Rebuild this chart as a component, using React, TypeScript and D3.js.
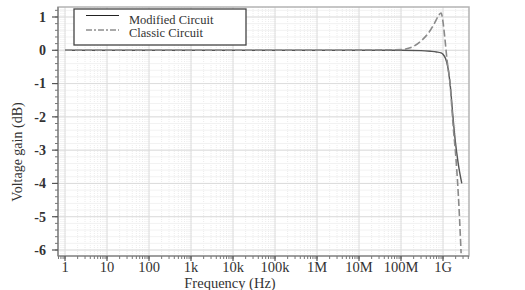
import React from "react";
import * as d3 from "d3";

const xTickValues = [1, 10, 100, 1e3, 1e4, 1e5, 1e6, 1e7, 1e8, 1e9];
const xTickLabels = ["1", "10", "100", "1k", "10k", "100k", "1M", "10M", "100M", "1G"];
const yTickValues = [1, 0, -1, -2, -3, -4, -5, -6];

const modifiedFreq = [1, 1e3, 1e6, 1e8, 3e8, 5e8, 7e8, 9e8, 1e9, 1.15e9, 1.3e9, 1.5e9, 1.7e9, 1.95e9, 2.3e9, 2.8e9];
const modifiedGain = [0, 0, 0, 0, -0.01, -0.03, -0.05, -0.08, -0.12, -0.25, -0.5, -1.1, -1.9, -2.7, -3.4, -4.0];

const classicFreq = [1, 1e3, 1e6, 1e8, 1.5e8, 2e8, 3e8, 4e8, 5e8, 6e8, 7e8, 8e8, 9e8, 1e9, 1.1e9, 1.25e9, 1.47e9, 1.75e9, 2.05e9, 2.4e9, 2.7e9];
const classicGain = [0, 0, 0, 0.02, 0.06, 0.12, 0.28, 0.44, 0.6, 0.77, 0.93, 1.06, 1.12, 0.85, 0.4, -0.3, -1.0, -2.3, -3.3, -4.7, -6.1];

const seriesNames = ["Modified Circuit", "Classic Circuit"];

export default function App() {
  const W = 525, H = 290;
  const left = 58, right = 469, top = 7, bottom = 256;
  const x = d3.scaleLog().domain([Math.pow(10, -7 / 42), Math.pow(10, (right - 65) / 42)]).range([left, right]);
  const y = d3.scaleLinear().domain([1 + (17 - top) / 33.3, -6 - (bottom - 250) / 33.3]).range([top, bottom]);

  const minorX: number[] = [];
  for (let e = -1; e <= 9; e++) {
    for (let m = 1; m <= 9; m++) {
      const v = m * Math.pow(10, e);
      if (v >= x.domain()[0] && v <= x.domain()[1]) minorX.push(v);
    }
  }
  const minorY: number[] = [];
  for (let v = -6.2; v <= 1.3; v += 0.2) {
    const r = Math.round(v * 10) / 10;
    if (r >= y.domain()[1] && r <= y.domain()[0]) minorY.push(r);
  }

  const line = d3
    .line<[number, number]>()
    .x((d) => x(d[0]))
    .y((d) => y(d[1]))
    .curve(d3.curveMonotoneX);

  const modData = modifiedFreq.map((f, i) => [f, modifiedGain[i]] as [number, number]);
  const clsData = classicFreq.map((f, i) => [f, classicGain[i]] as [number, number]);

  const font = "Liberation Serif";
  const textColor = "#333";

  return (
    <svg width={W} height={H} style={{ position: "absolute", left: 0, top: 0, background: "#fff" }} fontFamily={font}>
      {minorX.map((v, i) => (
        <line key={"mx" + i} x1={x(v)} x2={x(v)} y1={top} y2={bottom} stroke="#ececec" strokeWidth={1} strokeDasharray="1,1" />
      ))}
      {minorY.map((v, i) => (
        <line key={"my" + i} x1={left} x2={right} y1={y(v)} y2={y(v)} stroke="#f2f2f2" strokeWidth={1} />
      ))}
      {xTickValues.map((v, i) => (
        <line key={"gx" + i} x1={x(v)} x2={x(v)} y1={top} y2={bottom} stroke="#dcdcdc" strokeWidth={1} />
      ))}
      {yTickValues.map((v, i) => (
        <line key={"gy" + i} x1={left} x2={right} y1={y(v)} y2={y(v)} stroke="#dcdcdc" strokeWidth={1} />
      ))}
      <rect x={left} y={top} width={right - left} height={bottom - top} fill="none" stroke="#b4b4b4" strokeWidth={1.5} />
      <line x1={left} x2={left} y1={top} y2={bottom} stroke="#777" strokeWidth={1.2} />
      <line x1={left} x2={right} y1={bottom} y2={bottom} stroke="#777" strokeWidth={1.2} />
      {minorY.map((v, i) => (
        <line key={"ty" + i} x1={left - 3} x2={left} y1={y(v)} y2={y(v)} stroke="#777" strokeWidth={1} />
      ))}
      {yTickValues.map((v, i) => (
        <g key={"yl" + i}>
          <line x1={left - 6} x2={left} y1={y(v)} y2={y(v)} stroke="#555" strokeWidth={1.2} />
          <text x={46} y={y(v)} dy="0.35em" textAnchor="end" fontSize={14} fill={textColor} fontWeight="bold">
            {v}
          </text>
        </g>
      ))}
      {minorX.map((v, i) => (
        <line key={"tx" + i} x1={x(v)} x2={x(v)} y1={bottom} y2={bottom + 3} stroke="#777" strokeWidth={1} />
      ))}
      {xTickValues.map((v, i) => (
        <g key={"xl" + i}>
          <line x1={x(v)} x2={x(v)} y1={bottom} y2={bottom + 5} stroke="#555" strokeWidth={1.2} />
          <text x={x(v)} y={267} dy="0.35em" textAnchor="middle" fontSize={14.5} fill={textColor}>
            {xTickLabels[i]}
          </text>
        </g>
      ))}
      <path d={line(modData) || ""} fill="none" stroke="#555" strokeWidth={1.4} />
      <path d={line(clsData) || ""} fill="none" stroke="#8a8a8a" strokeWidth={1.6} strokeDasharray="7,3" />
      <rect x={74} y={9} width={172} height={36} fill="#fff" stroke="#444" strokeWidth={1.3} />
      <line x1={86} x2={119} y1={15.5} y2={15.5} stroke="#222" strokeWidth={1} />
      <line x1={86} x2={119} y1={30} y2={30} stroke="#555" strokeWidth={1} strokeDasharray="6,2,2,2" />
      <text x={129} y={20} dy="0.35em" fontSize={12.5} fill={textColor}>{seriesNames[0]}</text>
      <text x={129} y={33} dy="0.35em" fontSize={12.5} fill={textColor}>{seriesNames[1]}</text>
      <text transform={`translate(17,${152}) rotate(-90)`} textAnchor="middle" dy="0.35em" fontSize={14} fill={textColor}>
        Voltage gain (dB)
      </text>
      <text x={230} y={283} dy="0.35em" textAnchor="middle" fontSize={14.5} fill={textColor}>
        Frequency (Hz)
      </text>
    </svg>
  );
}
